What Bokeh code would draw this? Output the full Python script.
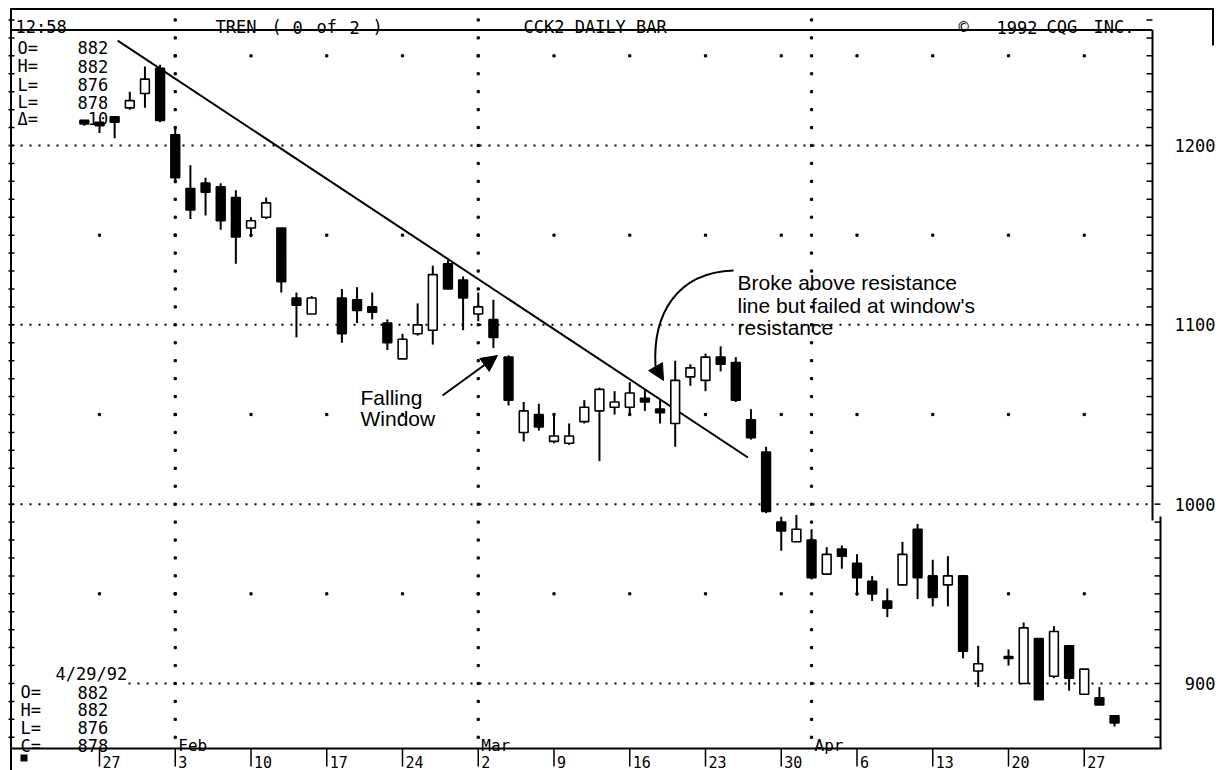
import numpy as np
from bokeh.plotting import figure
from bokeh.embed import file_html
from bokeh.resources import INLINE
from bokeh.models import Arrow, NormalHead
from bokeh.core.properties import value

# ---------------- data ----------------
# trading-day index: 0 = Mon Jan 27 1992 (weekday count, holidays left empty)
day_index = [-1, 0, 1, 2, 3, 4, 5, 6, 7, 8, 9, 10, 11, 12, 13, 14,
             16, 17, 18, 19, 20, 21, 22, 23, 24, 25, 26, 27, 28, 29, 30, 31, 32, 33, 34, 35,
             36, 37, 38, 39, 40, 41, 42, 43, 44, 45, 46, 47, 48, 49, 50, 51, 52, 53, 54, 55,
             56, 57, 58, 60, 61, 62, 63, 64, 65, 66, 67]
opens = [1214, 1213, 1216, 1221, 1229, 1243, 1206, 1176, 1179, 1177, 1171, 1154, 1160, 1154, 1115, 1106,
         1115, 1114, 1110, 1101, 1081, 1095, 1097, 1134, 1125, 1106, 1103, 1082, 1040, 1050, 1035, 1034,
         1046, 1052, 1054, 1054, 1059, 1053, 1045, 1071, 1069, 1082, 1079, 1047, 1029, 990, 979, 980,
         961, 975, 967, 957, 946, 955, 986, 960, 955, 960, 907,
         915, 900, 925, 904, 921, 894, 892, 882]
highs = [1214, 1213, 1216, 1230, 1244, 1245, 1210, 1189, 1182, 1179, 1175, 1160, 1171, 1154, 1118, 1116,
         1120, 1121, 1118, 1103, 1095, 1112, 1133, 1136, 1127, 1118, 1114, 1083, 1057, 1056, 1050, 1045,
         1058, 1065, 1063, 1068, 1064, 1058, 1080, 1078, 1084, 1088, 1082, 1053, 1032, 993, 994, 986,
         976, 977, 972, 960, 953, 979, 989, 969, 971, 960, 921,
         919, 934, 925, 932, 921, 908, 898, 882]
lows = [1211, 1207, 1204, 1220, 1221, 1213, 1179, 1159, 1161, 1153, 1134, 1149, 1159, 1118, 1093, 1106,
        1090, 1101, 1103, 1086, 1081, 1094, 1089, 1120, 1097, 1102, 1087, 1055, 1035, 1041, 1034, 1033,
        1045, 1024, 1050, 1050, 1052, 1045, 1032, 1066, 1063, 1074, 1057, 1036, 995, 974, 979, 958,
        961, 964, 949, 946, 937, 955, 947, 943, 943, 914, 898,
        910, 900, 891, 903, 896, 894, 888, 876]
closes = [1212, 1211, 1213, 1225, 1237, 1214, 1182, 1164, 1174, 1158, 1149, 1158, 1168, 1124, 1111, 1115,
          1095, 1108, 1107, 1090, 1092, 1100, 1128, 1120, 1115, 1110, 1093, 1058, 1052, 1043, 1038, 1038,
          1054, 1064, 1057, 1062, 1057, 1051, 1069, 1076, 1082, 1078, 1058, 1037, 996, 985, 986, 959,
          972, 971, 959, 950, 942, 972, 959, 948, 960, 918, 911,
          914, 931, 891, 929, 903, 908, 888, 878]

week_ticks = [0, 5, 10, 15, 20, 25, 30, 35, 40, 45, 50, 55, 60, 65]
week_labels = ["27", "3", "10", "17", "24", "2", "9", "16", "23", "30", "6", "13", "20", "27"]
month_ticks = [5, 25, 47]
month_labels = ["Feb", "Mar", "Apr"]
price_ticks = [900, 1000, 1100, 1200]
price_labels = ["900", "1000", "1100", "1200"]
mid_levels = [950, 1050, 1150, 1250]
trend_x = [1.2, 42.8]
trend_y = [1258.5, 1026.0]

top_box_keys = ["O=", "H=", "L=", "L=", "\u0394="]
top_box_vals = ["882", "882", "876", "878", "-10"]
bot_box_keys = ["O=", "H=", "L=", "C="]
bot_box_vals = ["882", "882", "876", "878"]

# ---------------- page-pixel helpers (layout only) ----------------
W, H = 1219, 770
def X(px):
    return (px - 99.0) / 15.15
def Y(py):
    return 1200.0 - (py - 145.0) / 1.7933

p = figure(width=W, height=H, x_range=(X(0), X(W)), y_range=(Y(H), Y(0)),
           output_backend="svg", toolbar_location=None,
           x_axis_location=None, y_axis_location=None,
           min_border_left=0, min_border_right=0, min_border_top=0, min_border_bottom=0,
           outline_line_color=None, background_fill_color="white", border_fill_color="white")
p.grid.visible = False

MONO = value("DejaVu Sans Mono")
SANS = value("Liberation Sans")

# ---------------- grid dots ----------------
for pt in price_ticks:
    p.line([X(11), X(1152)], [pt, pt], line_color="black", line_width=2, line_dash="2 7")
levels = np.arange(870, 1271, 10)
mx = [m for m in month_ticks for _ in levels]
my = [lv for _ in month_ticks for lv in levels]
p.scatter(mx, my, marker="square", size=2.2, color="black")
wx = [w for w in week_ticks for _ in mid_levels]
wy = [lv for _ in week_ticks for lv in mid_levels]
p.scatter(wx, wy, marker="square", size=2.2, color="black")

# ---------------- info-box backgrounds ----------------
p.quad(left=X(11), right=X(113), top=Y(30), bottom=Y(114), fill_color="white", line_color=None)
p.quad(left=X(11), right=X(122), top=Y(657), bottom=Y(747), fill_color="white", line_color=None)

# ---------------- trend line ----------------
p.line(trend_x, trend_y, line_color="black", line_width=2)

# ---------------- candles ----------------
tops = [max(o, c) for o, c in zip(opens, closes)]
bots = [min(o, c) for o, c in zip(opens, closes)]
fills = ["white" if c > o else "black" for o, c in zip(opens, closes)]
p.segment(x0=day_index, y0=lows, x1=day_index, y1=highs, line_color="black", line_width=2)
p.vbar(x=day_index, width=0.58, top=tops, bottom=bots, fill_color=fills,
       line_color="black", line_width=1.6)

# ---------------- frame ----------------
frame_lines = [
    ([X(10), X(1213)], [Y(8.5), Y(8.5)]),
    ([X(1212.5), X(1212.5)], [Y(8), Y(45)]),
    ([X(10.5), X(1152)], [Y(29.5), Y(29.5)]),
    ([X(10.5), X(10.5)], [Y(8), Y(770)]),
    ([X(1152), X(1152)], [Y(29.5), Y(520)]),
    ([X(1160), X(1160)], [Y(516), Y(748)]),
    ([X(10.5), X(1161)], [Y(748), Y(748)]),
]
for xs, ys in frame_lines:
    p.line(xs, ys, line_color="black", line_width=2)

edge = np.arange(870, 1271, 10)
p.segment(x0=[X(8)] * len(edge), y0=edge, x1=[X(14)] * len(edge), y1=edge, line_color="black", line_width=1.5)
up = edge[edge > 1005]
dn = edge[edge <= 1000]
p.segment(x0=[X(1146)] * len(up), y0=up, x1=[X(1152)] * len(up), y1=up, line_color="black", line_width=1.5)
p.segment(x0=[X(1154)] * len(dn), y0=dn, x1=[X(1160)] * len(dn), y1=dn, line_color="black", line_width=1.5)

# bottom date ticks and labels
p.segment(x0=week_ticks, y0=[Y(748)] * len(week_ticks), x1=week_ticks, y1=[Y(766)] * len(week_ticks),
          line_color="black", line_width=1.5)
p.text(x=week_ticks, y=[Y(761)] * len(week_ticks), text=week_labels, x_offset=3,
       text_font=MONO, text_font_size="15px", text_baseline="alphabetic", text_color="black")
p.quad(left=X(20), right=X(27), top=Y(754), bottom=Y(761), fill_color="black", line_color=None)

# month labels
p.text(x=month_ticks, y=[Y(745)] * len(month_ticks), text=month_labels, x_offset=3,
       text_font=MONO, text_font_size="16px", text_baseline="alphabetic", text_color="black")

# price labels on the right
p.text(x=[X(1215)] * len(price_ticks), y=price_ticks, text=price_labels,
       text_align="right", text_baseline="middle",
       text_font=MONO, text_font_size="17px", text_color="black")

# header (pieces placed as spaced in the scan)
hdr_x = [X(15), X(215), X(271), X(292), X(316), X(349), X(372), X(523),
         X(958), X(996), X(1046), X(1093)]
hdr_t = ["12:58", "TREN", "(", "0", "of", "2", ")", "CCK2 DAILY BAR",
         "\u00a9", "1992", "CQG", "INC."]
p.text(x=hdr_x, y=[Y(26.5)] * len(hdr_t), text=hdr_t, text_font=MONO, text_font_size="17px",
       text_baseline="alphabetic", text_color="black")

# info boxes
top_rows = [Y(47), Y(65.5), Y(84), Y(101.5), Y(118)]
p.text(x=[X(17)] * 5, y=top_rows, text=top_box_keys, text_font=MONO, text_font_size="17px",
       text_baseline="alphabetic", text_color="black")
p.text(x=[X(77)] * 5, y=top_rows, text=top_box_vals, text_font=MONO, text_font_size="17px",
       text_baseline="alphabetic", text_color="black")
p.text(x=[X(55)], y=[Y(673)], text=["4/29/92"], text_font=MONO, text_font_size="17px",
       text_baseline="alphabetic", text_color="black")
bot_rows = [Y(691.5), Y(709), Y(727), Y(745)]
p.text(x=[X(20)] * 4, y=bot_rows, text=bot_box_keys, text_font=MONO, text_font_size="17px",
       text_baseline="alphabetic", text_color="black")
p.text(x=[X(77)] * 4, y=bot_rows, text=bot_box_vals, text_font=MONO, text_font_size="17px",
       text_baseline="alphabetic", text_color="black")

# ---------------- annotations ----------------
p.text(x=[X(360)] * 2, y=[Y(397), Y(418)], text=["Falling", "Window"],
       text_font=SANS, text_font_size="21px", text_baseline="alphabetic", text_color="black")
p.add_layout(Arrow(end=NormalHead(size=16, fill_color="black", line_color="black"),
                   x_start=X(442), y_start=Y(395), x_end=X(497), y_end=Y(355),
                   line_color="black", line_width=2))

p.text(x=[X(737)] * 3, y=[Y(282), Y(304.5), Y(327)],
       text=["Broke above resistance", "line but failed at window's", "resistance"],
       text_font=SANS, text_font_size="21px", text_baseline="alphabetic", text_color="black")
p.bezier(x0=[X(733)], y0=[Y(270)], x1=[X(655)], y1=[Y(366)],
         cx0=[X(675)], cy0=[Y(272)], cx1=[X(652)], cy1=[Y(315)],
         line_color="black", line_width=2)
p.add_layout(Arrow(end=NormalHead(size=16, fill_color="black", line_color="black"),
                   x_start=X(655), y_start=Y(366), x_end=X(663), y_end=Y(380),
                   line_color="black", line_width=0, line_alpha=0))

open("out.html", "w").write(file_html(p, INLINE))
